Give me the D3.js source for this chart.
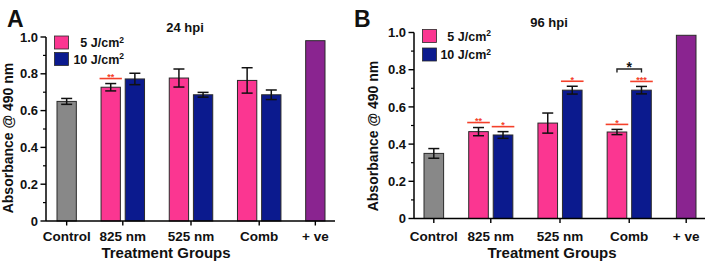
<!DOCTYPE html>
<html>
<head>
<meta charset="utf-8">
<script src="https://cdn.jsdelivr.net/npm/d3@7"></script>
<style>
  html, body { margin: 0; padding: 0; background: #fff; }
  svg { display: block; font-family: "Liberation Sans", Arial, sans-serif; font-weight: bold; }
</style>
</head>
<body>
<svg id="chart" width="707" height="263"></svg>
<script>
// ---------------- data ----------------
const groups = ["Control", "825 nm", "525 nm", "Comb", "+ ve"];
const seriesNames = ["5 J/cm", "10 J/cm"];
const barGroup = ["Control", "825 nm", "825 nm", "525 nm", "525 nm", "Comb", "Comb", "+ ve"];
const barType  = ["control", "5J", "10J", "5J", "10J", "5J", "10J", "pos"];

const values24 = [0.650, 0.727, 0.772, 0.777, 0.686, 0.764, 0.686, 0.980];
const errors24 = [0.016, 0.020, 0.031, 0.049, 0.013, 0.069, 0.026, 0];
const sig24    = ["", "**", "", "", "", "", "", ""];

const values96 = [0.350, 0.467, 0.449, 0.513, 0.690, 0.465, 0.690, 0.985];
const errors96 = [0.026, 0.022, 0.018, 0.054, 0.021, 0.014, 0.020, 0];
const sig96    = ["", "**", "*", "", "*", "*", "***", ""];
const bracket96 = [{from: 5, to: 6, label: "*"}];

const yTicks = [0, 0.2, 0.4, 0.6, 0.8, 1.0];
const yTickLabels = ["0", "0.2", "0.4", "0.6", "0.8", "1.0"];
const yMinorTicks = [0.1, 0.3, 0.5, 0.7, 0.9];

const colors = {control: "#888888", "5J": "#FB3691", "10J": "#0B1A8E", pos: "#8A2490"};
const sigColor = "#F4402A";

// ---------------- drawing ----------------
const svg = d3.select("#chart");
svg.append("rect").attr("width", 707).attr("height", 263).attr("fill", "#fff");

function drawPanel(p) {
  const g = svg.append("g");
  const y = d3.scaleLinear().domain([0, 1]).range([p.y0, p.y1]);

  // unit layout of bars
  const GAP = 1.28, INNER = 0.25;
  const lefts = [];
  let pos = 0;
  barGroup.forEach((grp, i) => {
    if (i > 0) pos += (grp === barGroup[i - 1]) ? INNER : GAP;
    lefts.push(pos);
    pos += 1;
  });
  const x = d3.scaleLinear().domain([0, pos]).range([p.bx0, p.bx1]);
  const bw = x(1) - x(0);
  const cx = i => x(lefts[i] + 0.5);
  const groupCenter = grp => d3.mean(barGroup.map((gg, i) => gg === grp ? cx(i) : null).filter(v => v !== null));

  // bars
  g.selectAll("rect.bar").data(p.values).join("rect")
    .attr("x", (d, i) => x(lefts[i]))
    .attr("y", d => y(d))
    .attr("width", bw)
    .attr("height", d => y(0) - y(d))
    .attr("fill", (d, i) => colors[barType[i]])
    .attr("stroke", "#2a2a2a").attr("stroke-width", 1);

  // error bars
  p.values.forEach((v, i) => {
    const e = p.errors[i];
    if (!e) return;
    const cap = 5.5;
    g.append("line").attr("x1", cx(i)).attr("x2", cx(i)).attr("y1", y(v - e)).attr("y2", y(v + e))
      .attr("stroke", "#111").attr("stroke-width", 1.5);
    [v - e, v + e].forEach(t => {
      g.append("line").attr("x1", cx(i) - cap).attr("x2", cx(i) + cap).attr("y1", y(t)).attr("y2", y(t))
        .attr("stroke", "#111").attr("stroke-width", 1.5);
    });
  });

  // significance markers
  p.sig.forEach((s, i) => {
    if (!s) return;
    const ly = y(p.values[i] + p.errors[i]) - 5;
    g.append("line").attr("x1", x(lefts[i]) - 1.5).attr("x2", x(lefts[i] + 1) + 1.5)
      .attr("y1", ly).attr("y2", ly).attr("stroke", sigColor).attr("stroke-width", 1.6);
    g.append("text").attr("x", cx(i)).attr("y", ly + 1.5).attr("text-anchor", "middle")
      .attr("font-size", 9).attr("fill", sigColor).text(s);
  });

  // brackets
  (p.brackets || []).forEach(b => {
    const x1 = cx(b.from), x2 = cx(b.to), by = p.bracketY;
    g.append("path").attr("d", `M${x1},${by + 3.5}V${by}H${x2}V${by + 3.5}`)
      .attr("fill", "none").attr("stroke", "#222").attr("stroke-width", 1.4);
    g.append("text").attr("x", (x1 + x2) / 2).attr("y", by + 2.5).attr("text-anchor", "middle")
      .attr("font-size", 14).attr("fill", "#111").text(b.label);
  });

  // y axis
  g.append("line").attr("x1", p.ax).attr("x2", p.ax).attr("y1", y(1)).attr("y2", y(0))
    .attr("stroke", "#000").attr("stroke-width", 1.5);
  yTicks.forEach((t, i) => {
    g.append("line").attr("x1", p.ax - 5.5).attr("x2", p.ax).attr("y1", y(t)).attr("y2", y(t))
      .attr("stroke", "#000").attr("stroke-width", 1.4);
    g.append("text").attr("x", p.ax - 8).attr("y", y(t) + 4.6).attr("text-anchor", "end")
      .attr("font-size", 13).attr("fill", "#111").text(yTickLabels[i]);
  });
  yMinorTicks.forEach(t => {
    g.append("line").attr("x1", p.ax - 3).attr("x2", p.ax).attr("y1", y(t)).attr("y2", y(t))
      .attr("stroke", "#000").attr("stroke-width", 1.2);
  });

  // x axis
  g.append("line").attr("x1", p.ax).attr("x2", p.axEnd).attr("y1", y(0)).attr("y2", y(0))
    .attr("stroke", "#000").attr("stroke-width", 1.5);
  groups.forEach(grp => {
    const gx = groupCenter(grp);
    g.append("line").attr("x1", gx).attr("x2", gx).attr("y1", y(0)).attr("y2", y(0) + 4.5)
      .attr("stroke", "#000").attr("stroke-width", 1.4);
    g.append("text").attr("x", gx).attr("y", 241).attr("text-anchor", "middle")
      .attr("font-size", 13.5).attr("fill", "#111").text(grp);
  });

  // axis titles
  g.append("text").attr("x", p.xTitleX).attr("y", 257.5).attr("text-anchor", "middle")
    .attr("font-size", 15).attr("fill", "#111").text("Treatment Groups");
  g.append("text").attr("transform", `translate(${p.yTitleX},${p.yTitleY}) rotate(-90)`)
    .attr("text-anchor", "middle").attr("font-size", 14).attr("fill", "#111")
    .text("Absorbance @ 490 nm");

  // panel title and letter
  g.append("text").attr("x", p.titleX).attr("y", p.titleY).attr("text-anchor", "middle")
    .attr("font-size", 13).attr("fill", "#111").text(p.title);
  g.append("text").attr("x", p.letterX).attr("y", 27).attr("font-size", 23).attr("fill", "#111").text(p.letter);

  // legend
  ["5J", "10J"].forEach((k, i) => {
    const ly = p.legY + i * p.legStep;
    g.append("rect").attr("x", p.legX).attr("y", ly).attr("width", 14).attr("height", 13)
      .attr("fill", colors[k]).attr("stroke", "#2a2a2a").attr("stroke-width", 0.8);
    const t = g.append("text").attr("x", p.legTextEnd).attr("y", ly + 11).attr("text-anchor", "end")
      .attr("font-size", 12.5).attr("fill", "#111");
    t.append("tspan").text(seriesNames[i]);
    t.append("tspan").attr("font-size", 8.5).attr("dy", -4.5).text("2");
  });
}

drawPanel({
  values: values24, errors: errors24, sig: sig24, brackets: [],
  y0: 221, y1: 37, ax: 46, axEnd: 335, bx0: 57, bx1: 325,
  xTitleX: 166, yTitleX: 13, yTitleY: 138,
  title: "24 hpi", titleX: 185, titleY: 32, letter: "A", letterX: 7,
  legX: 54.5, legY: 36, legStep: 16.5, legTextEnd: 124
});
drawPanel({
  values: values96, errors: errors96, sig: sig96, brackets: bracket96, bracketY: 69,
  y0: 218.5, y1: 32.5, ax: 414, axEnd: 705, bx0: 424, bx1: 696,
  xTitleX: 552, yTitleX: 378, yTitleY: 136,
  title: "96 hpi", titleX: 549, titleY: 27, letter: "B", letterX: 354,
  legX: 422.5, legY: 29.5, legStep: 18.5, legTextEnd: 491
});
</script>
</body>
</html>
